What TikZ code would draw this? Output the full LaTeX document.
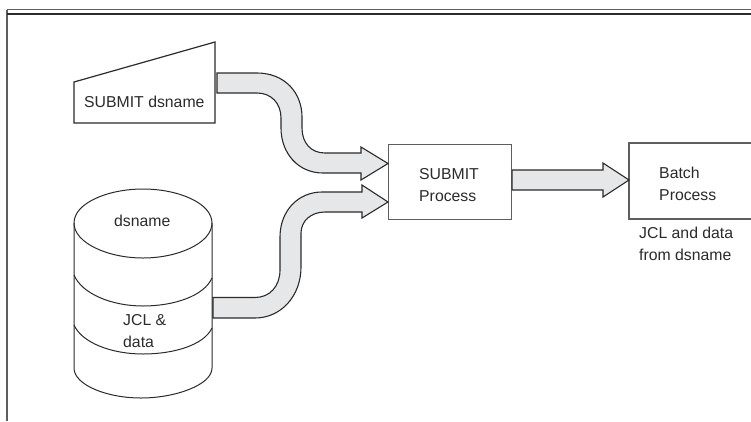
\documentclass[tikz,border=0pt]{standalone}
\usepackage{fontspec}
\setmainfont{Liberation Sans}
\definecolor{ink}{HTML}{2B2B2B}
\definecolor{framegray}{HTML}{5E5E5E}
\definecolor{flow}{HTML}{E6E7E8}
\tikzset{
  lbl/.style={anchor=base west,inner sep=0pt,text=ink,font=\fontsize{15.8}{18}\selectfont},
  boxnode/.style={draw=framegray,line width=1.1pt,fill=white,rectangle,inner sep=0pt,anchor=north west},
  shapeline/.style={draw=ink,line width=1pt,fill=white},
  flowarrow/.style={draw=ink,line width=1.1pt,fill=flow,line join=miter},
}
\begin{document}
\begin{tikzpicture}[x=1pt,y=-1pt]
\useasboundingbox (0,0) rectangle (751,421);
\fill[white] (0,0) rectangle (751,421);
% frame
\draw[framegray,line width=1.8pt] (7,421) -- (7,9.5);
\draw[framegray,line width=1pt] (7,9.5) -- (751,9.5);
\draw[ink,line width=1.8pt] (7,14.3) -- (751,14.3);
% trapezoid
\draw[shapeline,line width=1.2pt] (74,82) -- (215,42) -- (215,123) -- (74,123) -- cycle;
% boxes
\node[boxnode,minimum width=123pt,minimum height=75pt] (submit) at (388,144) {};
\draw[framegray,line width=1.1pt,fill=white] (751,143) -- (629,143) -- (629,219) -- (751,219);
\coordinate (batchw) at (629,180);
% cylinder
\draw[shapeline] (74,223) .. controls (74,203) and (108,189) .. (143,189) .. controls (178,189) and (212,203) .. (212,223)
  -- (212,368) .. controls (212,385) and (175,398) .. (141,398) .. controls (107,398) and (74,385) .. (74,368) -- cycle;
\draw[ink,line width=1pt] (74,223) .. controls (74,243) and (108,258) .. (143,258) .. controls (178,258) and (212,243) .. (212,223);
\draw[ink,line width=1pt] (74,275) .. controls (82,294) and (112,306) .. (143,306) .. controls (174,306) and (204,296) .. (212,278);
\draw[ink,line width=1pt] (74,325) .. controls (82,343) and (112,354) .. (143,354) .. controls (174,354) and (204,345) .. (212,328);
% arrows
\draw[flowarrow] (217,73) -- (257,73) .. controls (285,73) and (302,93) .. (302,117) -- (302,128)
  .. controls (302,143) and (311,153) .. (325,153) -- (361,153) -- (361,147) -- (submit.west |- 0,163.5) -- (361,180) -- (361,173) -- (323,173)
  .. controls (298,173) and (281,153) .. (281,128) -- (281,118) .. controls (281,103) and (271,93) .. (257,93) -- (217,93) -- cycle;
\draw[flowarrow] (213,297.5) -- (255,297.5) .. controls (270,297.5) and (280,286) .. (280,270) -- (280,237)
  .. controls (280,211) and (298,192) .. (322,192) -- (362,192) -- (362,185) -- (submit.west |- 0,202) -- (362,218) -- (362,212) -- (325,212)
  .. controls (311,212) and (301,221) .. (301,233) -- (301,267) .. controls (301,296) and (281,318) .. (255,318) -- (213,318) -- cycle;
\draw[flowarrow] (submit.east |- 0,170) -- (603,170) -- (603,163) -- (batchw) -- (603,197) -- (603,190) -- (submit.east |- 0,190) -- cycle;
% labels
\node[lbl] (t1) at (84,107) {SUBMIT dsname};
\node[lbl] (t2) at (114,226) {dsname};
\node[lbl] (t3) at (123,325) {JCL \&};
\node[lbl] (t4) at (123,347) {data};
\node[lbl] (t5) at (419,179) {SUBMIT};
\node[lbl] (t6) at (419,201) {Process};
\node[lbl] (t7) at (659,178) {Batch};
\node[lbl] (t8) at (659,200) {Process};
\node[lbl] (t9) at (639,238) {JCL and data};
\node[lbl] (t10) at (639,260) {from dsname};
\end{tikzpicture}
\end{document}
